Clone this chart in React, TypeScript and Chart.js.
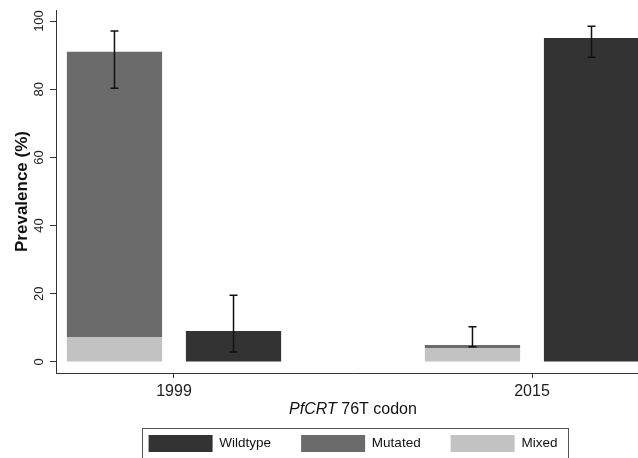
import React, { useEffect, useRef } from "react";
import { Chart, registerables } from "chart.js";

Chart.register(...registerables);

const categories = ["1999", "2015"];
const mixedValues = [7.3, 4.1];
const mutatedValues = [83.7, 0.9];
const wildtypeValues = [9.1, 95.0];
const mutatedErrLow = [80.3, 4.5];
const mutatedErrHigh = [97.1, 10.3];
const wildtypeErrLow = [2.9, 89.4];
const wildtypeErrHigh = [19.6, 98.5];
const yTicks = [0, 20, 40, 60, 80, 100];

const FONT = "'Liberation Sans', Arial, Helvetica, sans-serif";

const errorBarPlugin = {
  id: "errorBars",
  afterDatasetsDraw(chart: any) {
    const ctx = chart.ctx;
    const y = chart.scales.y;
    ctx.save();
    ctx.strokeStyle = "#111";
    ctx.lineWidth = 1.5;
    chart.data.datasets.forEach((ds: any, di: number) => {
      if (!ds.errLow) return;
      const meta = chart.getDatasetMeta(di);
      meta.data.forEach((el: any, i: number) => {
        const x = el.x;
        const yl = y.getPixelForValue(ds.errLow[i]);
        const yh = y.getPixelForValue(ds.errHigh[i]);
        ctx.beginPath();
        ctx.moveTo(x, yl);
        ctx.lineTo(x, yh);
        ctx.moveTo(x - 4, yl);
        ctx.lineTo(x + 4, yl);
        ctx.moveTo(x - 4, yh);
        ctx.lineTo(x + 4, yh);
        ctx.stroke();
      });
    });
    ctx.restore();
  },
};

const decorPlugin = {
  id: "decor",
  afterDraw(chart: any) {
    const ctx = chart.ctx;
    const area = chart.chartArea;
    ctx.save();
    const part1 = "PfCRT";
    const part2 = " 76T codon";
    ctx.fillStyle = "#111";
    ctx.textBaseline = "middle";
    ctx.textAlign = "left";
    ctx.font = `italic 16px ${FONT}`;
    const w1 = ctx.measureText(part1).width;
    ctx.font = `16px ${FONT}`;
    const w2 = ctx.measureText(part2).width;
    const cx = (area.left + area.right) / 2;
    const ty = area.bottom + 37;
    const sx = cx - (w1 + w2) / 2;
    ctx.font = `italic 16px ${FONT}`;
    ctx.fillText(part1, sx, ty);
    ctx.font = `16px ${FONT}`;
    ctx.fillText(part2, sx + w1, ty);
    const boxes = chart.legend && chart.legend.legendHitBoxes;
    if (boxes && boxes.length) {
      const first = boxes[0];
      const last = boxes[boxes.length - 1];
      const left = first.left - 7;
      const right = last.left + last.width + 10;
      const top = first.top - 7;
      const bottom = first.top + 17 + 7;
      ctx.strokeStyle = "#555";
      ctx.lineWidth = 1;
      ctx.strokeRect(Math.round(left) + 0.5, Math.round(top) + 0.5, Math.round(right - left), Math.round(bottom - top));
    }
    ctx.restore();
  },
};

export default function App() {
  const ref = useRef<HTMLCanvasElement>(null);
  useEffect(() => {
    if (!ref.current) return;
    Chart.defaults.font.family = FONT;
    const toPts = (arr: number[]) => arr.map((v, i) => ({ x: i, y: v }));
    const chart = new Chart(ref.current, {
      type: "bar",
      data: {
        datasets: [
          {
            label: "Mixed",
            data: toPts(mixedValues),
            backgroundColor: "#c2c2c2",
            stack: "A",
          } as any,
          {
            label: "Mutated",
            data: toPts(mutatedValues),
            backgroundColor: "#6b6b6b",
            stack: "A",
            errLow: mutatedErrLow,
            errHigh: mutatedErrHigh,
          } as any,
          {
            label: "Wildtype",
            data: toPts(wildtypeValues),
            backgroundColor: "#333333",
            stack: "B",
            errLow: wildtypeErrLow,
            errHigh: wildtypeErrHigh,
          } as any,
        ],
      },
      options: {
        responsive: false,
        animation: false,
        categoryPercentage: 0.665,
        barPercentage: 0.8,
        layout: { padding: { left: 0, right: 56, top: 10, bottom: 20 } },
        plugins: {
          tooltip: { enabled: false },
          legend: {
            position: "bottom",
            fullSize: false,
            labels: {
              boxWidth: 64,
              boxHeight: 17,
              padding: 30,
              color: "#111",
              font: { size: 13.5 },
              sort: (a: any, b: any) => b.datasetIndex - a.datasetIndex,
            },
          },
        },
        scales: {
          x: {
            type: "linear",
            min: -0.3296,
            max: 1.3296,
            bounds: "data",
            offset: false,
            afterBuildTicks: (s: any) => {
              s.ticks = categories.map((_, i) => ({ value: i }));
            },
            afterFit: (s: any) => {
              s.height = 32;
            },
            ticks: {
              callback: (v: any) => categories[v] ?? "",
              color: "#222",
              font: { size: 16 },
              padding: 4,
              autoSkip: false,
              maxRotation: 0,
            },
            grid: { drawOnChartArea: false, offset: false, tickLength: 5, color: "#333" },
            border: { color: "#333", width: 1 },
          },
          y: {
            stacked: true,
            min: -3.23,
            max: 103.23,
            afterBuildTicks: (s: any) => {
              s.ticks = yTicks.map((v) => ({ value: v }));
            },
            afterFit: (s: any) => {
              s.width = 56;
            },
            ticks: {
              color: "#222",
              font: { size: 13 },
              minRotation: 90,
              maxRotation: 90,
              crossAlign: "center",
              padding: 0,
            },
            grid: { drawOnChartArea: false, tickLength: 6, color: "#333" },
            border: { color: "#333", width: 1 },
            title: {
              display: true,
              text: "Prevalence (%)",
              color: "#111",
              font: { size: 17, weight: "bold" },
              padding: { top: 12, bottom: 0 },
            },
          },
        },
      } as any,
      plugins: [errorBarPlugin, decorPlugin],
    });
    return () => chart.destroy();
  }, []);
  return (
    <div
      style={{
        position: "fixed",
        left: 0,
        top: 0,
        width: 638,
        height: 458,
        overflow: "hidden",
        background: "#fff",
      }}
    >
      <canvas ref={ref} width={706} height={482} style={{ display: "block" }} />
    </div>
  );
}
